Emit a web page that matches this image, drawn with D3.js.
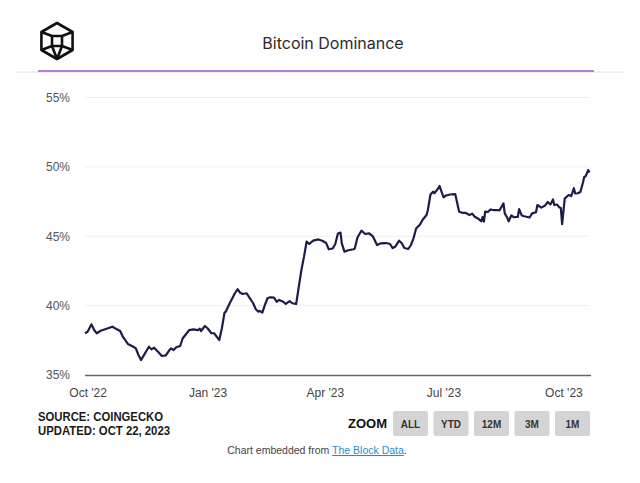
<!DOCTYPE html>
<html>
<head>
<meta charset="utf-8">
<script src="https://cdn.jsdelivr.net/npm/d3@7"></script>
<style>
  html, body { margin: 0; padding: 0; background: #fff; }
  svg { display: block; font-family: "Liberation Sans", Arial, sans-serif; }
</style>
</head>
<body>
<div class="viz"></div>
<script>
// Bitcoin dominance (%)
const dates = [
  "2022-09-29","2022-10-01","2022-10-04","2022-10-06","2022-10-08","2022-10-11","2022-10-15","2022-10-20",
  "2022-10-22","2022-10-26","2022-10-28","2022-11-01","2022-11-05","2022-11-07","2022-11-09","2022-11-11",
  "2022-11-14","2022-11-17","2022-11-19","2022-11-21","2022-11-24","2022-11-27","2022-11-30","2022-12-03",
  "2022-12-04","2022-12-06","2022-12-08","2022-12-11","2022-12-13","2022-12-15","2022-12-18","2022-12-21",
  "2022-12-25","2022-12-26","2022-12-27","2022-12-30","2023-01-01","2023-01-04","2023-01-06","2023-01-08",
  "2023-01-10","2023-01-12","2023-01-14","2023-01-15","2023-01-18","2023-01-20","2023-01-22","2023-01-24",
  "2023-01-26","2023-01-28","2023-01-31","2023-02-02","2023-02-05","2023-02-07","2023-02-09","2023-02-10",
  "2023-02-12","2023-02-14","2023-02-16","2023-02-18","2023-02-21","2023-02-23","2023-02-25","2023-02-28",
  "2023-03-02","2023-03-05","2023-03-07","2023-03-10","2023-03-12","2023-03-14","2023-03-16","2023-03-18",
  "2023-03-20","2023-03-23","2023-03-27","2023-03-30","2023-04-02","2023-04-04","2023-04-07","2023-04-09",
  "2023-04-11","2023-04-13","2023-04-14","2023-04-16","2023-04-19","2023-04-23","2023-04-24","2023-04-26",
  "2023-04-29","2023-05-02","2023-05-05","2023-05-08","2023-05-11","2023-05-14","2023-05-18","2023-05-21",
  "2023-05-23","2023-05-25","2023-05-28","2023-05-30","2023-06-01","2023-06-04","2023-06-06","2023-06-08",
  "2023-06-10","2023-06-13","2023-06-15","2023-06-18","2023-06-19","2023-06-21","2023-06-23","2023-06-24",
  "2023-06-26","2023-06-28","2023-07-01","2023-07-03","2023-07-06","2023-07-10","2023-07-13","2023-07-16",
  "2023-07-18","2023-07-21","2023-07-23","2023-07-25","2023-07-28","2023-07-30","2023-07-31","2023-08-01",
  "2023-08-02","2023-08-04","2023-08-06","2023-08-08","2023-08-11","2023-08-13","2023-08-16","2023-08-17",
  "2023-08-19","2023-08-20","2023-08-22","2023-08-24","2023-08-27","2023-08-28","2023-08-30","2023-09-01",
  "2023-09-05","2023-09-07","2023-09-10","2023-09-11","2023-09-14","2023-09-17","2023-09-19","2023-09-21",
  "2023-09-23","2023-09-24","2023-09-26","2023-09-28","2023-09-29","2023-09-30","2023-10-01","2023-10-02",
  "2023-10-05","2023-10-07","2023-10-09","2023-10-10","2023-10-12","2023-10-14","2023-10-16","2023-10-17",
  "2023-10-18","2023-10-20","2023-10-21"
];
const dominance = [
  38.01,38.12,38.65,38.24,38.01,38.19,38.32,38.48,
  38.37,38.17,37.76,37.23,37.04,36.92,36.44,36.08,
  36.56,37.04,36.85,36.97,36.68,36.37,36.41,36.82,
  36.92,36.80,37.00,37.09,37.65,37.88,38.24,38.29,
  38.24,38.34,38.17,38.53,38.37,38.01,38.01,37.76,
  37.52,38.37,39.49,39.56,40.17,40.53,40.89,41.18,
  40.93,40.84,40.89,40.60,40.17,39.74,39.56,39.63,
  39.49,40.05,40.53,40.60,40.57,40.28,40.41,40.28,
  40.12,40.33,40.17,40.12,41.36,42.57,43.53,44.62,
  44.44,44.68,44.77,44.68,44.51,44.06,44.12,44.44,
  45.20,45.26,44.49,43.89,43.99,44.06,44.13,44.91,
  45.40,45.16,45.21,44.97,44.37,44.49,44.51,44.44,
  44.15,44.25,44.68,44.49,44.15,44.08,44.37,44.85,
  45.56,45.85,46.19,46.53,46.89,48.01,48.21,48.10,
  48.33,48.62,47.81,47.94,48.01,48.04,46.77,46.68,
  46.68,46.53,46.63,46.41,46.24,46.08,46.39,46.05,
  46.77,46.75,46.93,46.89,46.89,46.87,47.37,46.65,
  46.31,46.08,46.50,46.37,46.39,46.95,46.50,46.44,
  46.35,46.65,46.73,47.25,47.06,47.22,47.47,47.29,
  47.65,47.25,47.29,47.07,47.04,45.87,46.77,47.72,
  47.97,47.90,48.46,48.08,48.10,48.19,48.87,49.29,
  49.31,49.77,49.59
];
const yTicks = [35, 40, 45, 50, 55];
const xTicks = ["2022-10-01", "2023-01-01", "2023-04-01", "2023-07-01", "2023-10-01"];
const zoomButtons = ["ALL", "YTD", "12M", "3M", "1M"];
const sourceLines = ["SOURCE: COINGECKO", "UPDATED: OCT 22, 2023"];

const parseDate = d3.timeParse("%Y-%m-%d");
const data = dates.map((d, i) => ({ date: parseDate(d), value: dominance[i] }));

const totalWidth = 640;
const totalHeight = 483;
const plot = { left: 85, right: 590, top: 97.5, bottom: 375 };

const svg = d3
  .select(".viz")
  .append("svg")
  .attr("width", totalWidth)
  .attr("height", totalHeight);

// Header: logo, title, purple rule
const logo = svg
  .append("g")
  .attr("transform", "translate(57,41)")
  .attr("fill", "none")
  .attr("stroke", "#111")
  .attr("stroke-width", 2.6)
  .attr("stroke-linejoin", "round");

const hexR = 18;
const hex = d3.range(6).map((i) => {
  const a = (Math.PI / 3) * i - Math.PI / 2;
  return [hexR * Math.cos(a), hexR * Math.sin(a)];
});
logo.append("path").attr("d", "M" + hex.join("L") + "Z");
// inner cube
logo.append("path").attr("d", "M-5,-5L5,-5L5,5L-5,5Z");
logo.append("path").attr("d", `M${hex[5]}L-5,-5M${hex[1]}L5,-5M-5,5L${hex[4]}M5,5L${hex[2]}M-5,5L0,${hexR}M5,5L0,${hexR}`);

svg.append("text")
  .attr("x", 333)
  .attr("y", 49)
  .attr("text-anchor", "middle")
  .attr("fill", "#2b2b2b")
  .style("font-family", "Inter, 'Noto Sans', sans-serif")
  .style("font-size", "16px")
  .text("Bitcoin Dominance");

svg.append("line")
  .attr("x1", 15).attr("x2", 625)
  .attr("y1", 72).attr("y2", 72)
  .attr("stroke", "#e6e0ec")
  .attr("stroke-width", 1);

svg.append("line")
  .attr("x1", 38).attr("x2", 594)
  .attr("y1", 71).attr("y2", 71)
  .attr("stroke", "#b77fd6")
  .attr("stroke-width", 2);

// Scales
const xScale = d3
  .scaleTime()
  .domain([parseDate("2022-09-29"), parseDate("2023-10-21")])
  .range([plot.left, plot.right - 0.5]);

const yScale = d3.scaleLinear().domain([35, 55]).range([plot.bottom, plot.top]);

// Grid lines
svg.append("g")
  .selectAll("line")
  .data(yTicks.filter((t) => t > 35))
  .enter()
  .append("line")
  .attr("x1", plot.left)
  .attr("x2", plot.right)
  .attr("y1", (d) => yScale(d))
  .attr("y2", (d) => yScale(d))
  .attr("stroke", "#efefef")
  .attr("stroke-width", 1);

// Y axis labels
const yAxis = svg
  .append("g")
  .attr("transform", `translate(${plot.left - 15},0)`)
  .call(
    d3.axisLeft(yScale)
      .tickValues(yTicks)
      .tickSize(0)
      .tickPadding(0)
      .tickFormat((d) => d + "%")
  );
yAxis.select(".domain").remove();
yAxis.selectAll("text")
  .attr("fill", "#555")
  .style("font-size", "12px");

// X axis
const xAxis = svg
  .append("g")
  .attr("transform", `translate(0,${plot.bottom})`)
  .call(
    d3.axisBottom(xScale)
      .tickValues(xTicks.map(parseDate))
      .tickSize(0)
      .tickPadding(13)
      .tickFormat(d3.timeFormat("%b '%y"))
  );
xAxis.select(".domain")
  .attr("d", `M${plot.left},0.5H${plot.right + 1}`)
  .attr("stroke", "#666")
  .attr("stroke-width", 1.5);
xAxis.selectAll("text")
  .attr("fill", "#444")
  .style("font-size", "12px");

// Line
const line = d3
  .line()
  .x((d) => xScale(d.date))
  .y((d) => yScale(d.value));

svg.append("path")
  .datum(data)
  .attr("fill", "none")
  .attr("stroke", "#1c1c48")
  .attr("stroke-width", 2.2)
  .attr("stroke-linejoin", "round")
  .attr("d", line);

// Source block (the original face is a bit narrower than Liberation Sans)
svg.append("g")
  .selectAll("text")
  .data(sourceLines)
  .enter()
  .append("text")
  .attr("x", 38)
  .attr("y", (d, i) => 421 + i * 14)
  .attr("fill", "#1a1a1a")
  .attr("textLength", (d, i) => (i === 0 ? 125 : 132))
  .attr("lengthAdjust", "spacingAndGlyphs")
  .style("font-size", "12.5px")
  .style("font-weight", "bold")
  .text((d) => d);

// Zoom buttons
svg.append("text")
  .attr("x", 387)
  .attr("y", 428)
  .attr("text-anchor", "end")
  .attr("fill", "#111")
  .style("font-size", "13px")
  .style("font-weight", "bold")
  .text("ZOOM");

const buttons = svg
  .append("g")
  .selectAll("g")
  .data(zoomButtons)
  .enter()
  .append("g")
  .attr("transform", (d, i) => `translate(${393 + i * 40.5},411)`);

buttons.append("rect")
  .attr("width", 35)
  .attr("height", 25)
  .attr("rx", 2)
  .attr("fill", "#d4d4d4");

buttons.append("text")
  .attr("x", 17.5)
  .attr("y", 17)
  .attr("text-anchor", "middle")
  .attr("fill", "#333")
  .style("font-size", "10px")
  .style("font-weight", "bold")
  .text((d) => d);

// Embed note
const note = svg.append("text")
  .attr("x", 317)
  .attr("y", 454)
  .attr("text-anchor", "middle")
  .attr("fill", "#444")
  .style("font-size", "10.5px");
note.append("tspan").text("Chart embedded from ");
note.append("tspan")
  .attr("fill", "#1e90c8")
  .style("text-decoration", "underline")
  .text("The Block Data");
note.append("tspan").text(".");
</script>
</body>
</html>
